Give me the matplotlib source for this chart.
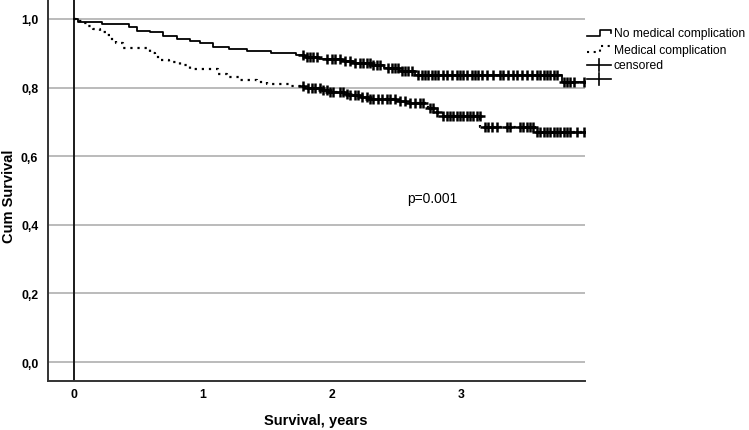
import numpy as np
import matplotlib
matplotlib.use("Agg")
import matplotlib.pyplot as plt
from matplotlib.lines import Line2D

plt.rcParams["font.family"] = ["Liberation Sans", "DejaVu Sans"]

# --- Data ---
# No medical complication: step times (years) and survival after each step
nomed_t = [0, 0.03, 0.22, 0.43, 0.49, 0.59, 0.69, 0.80, 0.90, 0.98, 1.08, 1.20,
           1.34, 1.53, 1.72, 1.78, 1.90, 2.08, 2.16, 2.30, 2.40, 2.52, 2.64, 3.78]
nomed_s = [1.0, 0.990, 0.985, 0.975, 0.966, 0.961, 0.951, 0.942, 0.935, 0.930,
           0.917, 0.913, 0.906, 0.901, 0.894, 0.888, 0.883, 0.878, 0.871, 0.865,
           0.857, 0.847, 0.838, 0.815]
nomed_censored = [1.778, 1.804, 1.830, 1.855, 1.881, 1.959, 1.997, 2.023, 2.062,
                  2.101, 2.140, 2.178, 2.217, 2.243, 2.269, 2.295, 2.320, 2.346,
                  2.372, 2.437, 2.463, 2.488, 2.514, 2.540, 2.566, 2.592, 2.618,
                  2.669, 2.695, 2.721, 2.747, 2.773, 2.799, 2.824, 2.863, 2.889,
                  2.928, 2.966, 2.992, 3.018, 3.044, 3.083, 3.109, 3.134, 3.160,
                  3.199, 3.251, 3.303, 3.328, 3.367, 3.406, 3.432, 3.471, 3.509,
                  3.548, 3.587, 3.613, 3.639, 3.664, 3.690, 3.716, 3.742, 3.794,
                  3.820, 3.845, 3.871, 3.949]

# Medical complication
med_t = [0, 0.02, 0.06, 0.10, 0.15, 0.20, 0.25, 0.28, 0.33, 0.38, 0.59, 0.63,
         0.67, 0.74, 0.82, 0.90, 1.12, 1.19, 1.29, 1.42, 1.50, 1.67, 1.78, 1.91,
         1.98, 2.09, 2.14, 2.22, 2.29, 2.50, 2.60, 2.74, 2.81, 2.86, 3.15, 3.57]
med_s = [1.0, 0.995, 0.988, 0.980, 0.971, 0.962, 0.952, 0.942, 0.930, 0.914,
         0.900, 0.888, 0.880, 0.874, 0.866, 0.855, 0.840, 0.832, 0.823, 0.817,
         0.810, 0.804, 0.798, 0.793, 0.788, 0.781, 0.777, 0.773, 0.768, 0.762,
         0.755, 0.740, 0.728, 0.716, 0.685, 0.670]
med_censored = [1.778, 1.817, 1.842, 1.868, 1.907, 1.933, 1.959, 1.985, 2.010,
                2.062, 2.088, 2.114, 2.140, 2.178, 2.204, 2.230, 2.269, 2.295,
                2.320, 2.359, 2.385, 2.424, 2.450, 2.488, 2.527, 2.566, 2.605,
                2.643, 2.682, 2.708, 2.760, 2.786, 2.811, 2.863, 2.889, 2.915,
                2.941, 2.966, 2.992, 3.018, 3.044, 3.070, 3.096, 3.121, 3.147,
                3.186, 3.212, 3.238, 3.277, 3.354, 3.380, 3.457, 3.483, 3.509,
                3.535, 3.561, 3.587, 3.613, 3.639, 3.664, 3.690, 3.716, 3.742,
                3.768, 3.794, 3.820, 3.845, 3.897, 3.949]

follow_up_end = 3.96
x_ticks = [0, 1, 2, 3]
y_ticks = [0.0, 0.2, 0.4, 0.6, 0.8, 1.0]
p_text = "p=0.001"


def surv_at(t_steps, s_steps, t):
    idx = np.searchsorted(t_steps, t, side="right") - 1
    return np.asarray(s_steps)[idx]


fig = plt.figure(figsize=(7.49, 4.31), dpi=100)
W, H = 749, 431
ax = fig.add_axes([48 / W, (H - 382) / H, (585 - 48) / W, 382 / H])

ax.set_xlim(-0.2, 3.96)
ax.set_ylim(-0.055, 1.058)

# grid lines
for y in y_ticks:
    ax.axhline(y, color="#a8a8a8", lw=1.1, zorder=1)
ax.axvline(0, color="#1a1a1a", lw=1.4, zorder=2)

# curves
ax.step(nomed_t + [follow_up_end], nomed_s + [nomed_s[-1]], where="post",
        color="black", lw=1.3, zorder=3)
ax.step(med_t + [follow_up_end], med_s + [med_s[-1]], where="post",
        color="black", lw=1.6, dashes=(1.0, 2.2), zorder=3)

# censored marks
ax.plot(nomed_censored, surv_at(nomed_t, nomed_s, nomed_censored), ls="none",
        marker="+", ms=7.5, mew=1.8, color="black", zorder=4)
ax.plot(med_censored, surv_at(med_t, med_s, med_censored), ls="none",
        marker="+", ms=7.5, mew=1.8, color="black", zorder=4)

# axes styling
for side in ["top", "right"]:
    ax.spines[side].set_visible(False)
for side in ["left", "bottom"]:
    ax.spines[side].set_color("#333333")
    ax.spines[side].set_linewidth(1.4)
ax.set_xticks(x_ticks)
ax.set_yticks(y_ticks)
ax.set_yticklabels([f"{v:.1f}".replace(".", ",") for v in y_ticks])
ax.tick_params(length=0, labelsize=8.8)
ax.tick_params(axis="y", pad=7)
ax.tick_params(axis="x", pad=5)
for lab in ax.get_xticklabels() + ax.get_yticklabels():
    lab.set_fontweight("bold")

# axis titles placed in figure pixels so nothing is clipped
fig.text(316 / W, 1 - 421 / H, "Survival, years", fontsize=10.5,
         fontweight="bold", ha="center", va="center")
fig.text(9 / W, 1 - 196 / H, "Cum Survival", fontsize=10.5,
         fontweight="bold", ha="center", va="center", rotation=90)

ax.text(2.78, 0.478, p_text, fontsize=10, ha="center", va="center")

# --- manual legend (SPSS style) ---
def fx(x):
    return x / W


def fy(y):
    return 1 - y / H


tr = fig.transFigure
# No medical complication: solid step sample
fig.add_artist(Line2D([fx(587), fx(600), fx(600), fx(611), fx(611)],
                      [fy(37), fy(37), fy(31), fy(31), fy(34)],
                      color="black", lw=1.2, transform=tr))
# Medical complication: dotted step sample
fig.add_artist(Line2D([fx(587), fx(600), fx(600), fx(611), fx(611)],
                      [fy(53), fy(53), fy(47), fy(47), fy(49)],
                      color="black", lw=1.5, dashes=(1.0, 2.2), transform=tr))
# censored samples
for yy in [66, 80]:
    fig.add_artist(Line2D([fx(587), fx(611)], [fy(yy), fy(yy)],
                          color="black", lw=1.2, transform=tr))
    fig.add_artist(Line2D([fx(599), fx(599)], [fy(yy - 6), fy(yy + 6)],
                          color="black", lw=1.2, transform=tr))

legend_labels = ["No medical complication", "Medical complication", "censored"]
for lab, yy in zip(legend_labels, [34, 51, 66]):
    fig.text(fx(614), fy(yy), lab, fontsize=8.7, ha="left", va="center")

fig.savefig("out.png", dpi=100, facecolor="white")
